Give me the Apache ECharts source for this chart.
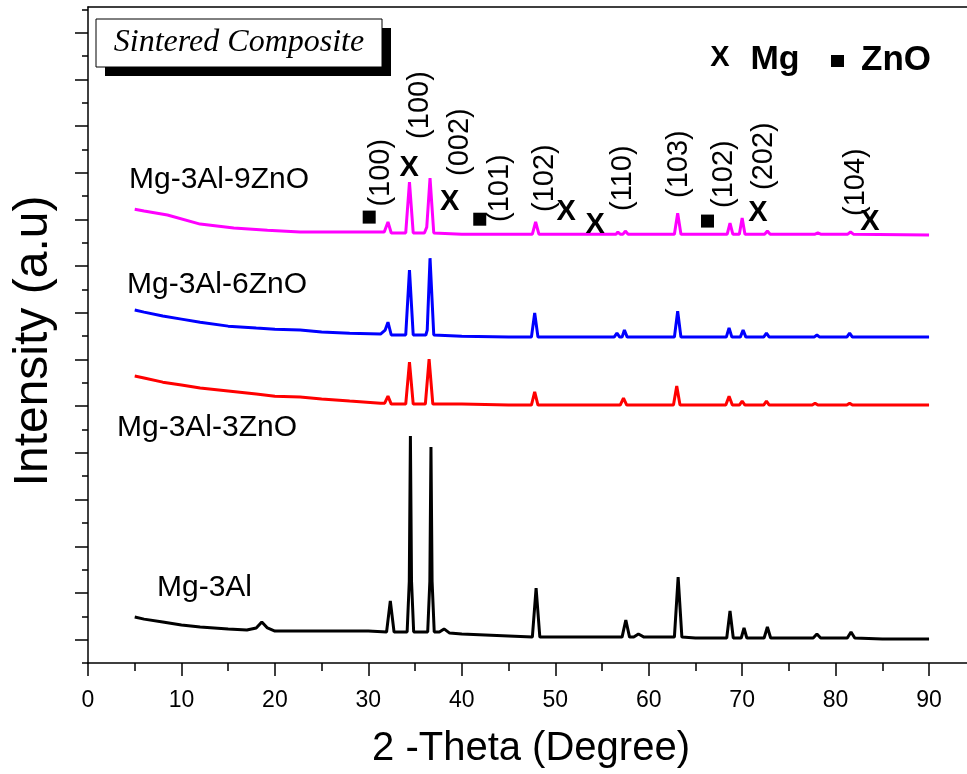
<!DOCTYPE html>
<html><head><meta charset="utf-8">
<script src="https://cdn.jsdelivr.net/npm/echarts@6/dist/echarts.min.js"></script>
<style>html,body{margin:0;padding:0;background:#fff}#c{width:967px;height:774px}</style>
</head><body><div id="c"></div>
<script>
// 2-Theta (degree), intensity (a.u., offset stacked)
const mg3Al = [[5,1.97],[6,1.88],[8,1.76],[10,1.63],[12,1.54],[15,1.46],[17,1.41],[18.0,1.50],[18.6,1.76],[19.2,1.50],[20,1.37],[25,1.37],[30,1.37],[31.95,1.33],[32.35,2.66],[32.75,1.33],[34.15,1.33],[34.38,3.5],[34.5,9.72],[34.62,3.5],[34.85,1.33],[36.35,1.33],[36.58,3.5],[36.7,9.25],[36.82,3.5],[37.05,1.33],[37.6,1.33],[38.1,1.46],[38.7,1.28],[40,1.24],[45,1.16],[47.55,1.11],[47.95,3.21],[48.35,1.11],[50,1.11],[55,1.11],[57.15,1.11],[57.55,1.84],[57.95,1.11],[58.4,1.11],[58.9,1.24],[59.5,1.11],[62.75,1.11],[63.15,3.68],[63.55,1.11],[65,1.07],[68.35,1.07],[68.7,2.23],[69.05,1.07],[69.9,1.07],[70.2,1.50],[70.5,1.07],[72.35,1.07],[72.7,1.54],[73.05,1.07],[75,1.07],[77.6,1.07],[78.0,1.24],[78.4,1.07],[81.25,1.07],[81.65,1.33],[82.05,1.07],[85,1.03],[90,1.03]];
const mg3Al3ZnO = [[5,12.29],[6,12.21],[8,12.03],[10,11.91],[12,11.78],[15,11.65],[18,11.52],[20,11.43],[22.7,11.39],[25,11.31],[28,11.22],[31.3,11.13],[31.75,11.13],[32.1,11.43],[32.45,11.09],[34.0,11.09],[34.4,12.89],[34.8,11.09],[36.1,11.09],[36.5,13.02],[36.9,11.09],[40,11.09],[45,11.05],[47.45,11.05],[47.8,11.61],[48.15,11.05],[55,11.05],[56.95,11.05],[57.3,11.35],[57.65,11.05],[62.65,11.05],[63.0,11.86],[63.35,11.05],[68.25,11.05],[68.6,11.43],[68.95,11.05],[69.7,11.05],[70.0,11.22],[70.3,11.05],[72.3,11.05],[72.6,11.22],[72.9,11.05],[77.5,11.05],[77.8,11.13],[78.1,11.05],[81.2,11.05],[81.5,11.13],[81.8,11.05],[90,11.05]];
const mg3Al6ZnO = [[5,15.12],[6,15.03],[8,14.86],[10,14.73],[12,14.60],[15,14.43],[18,14.35],[20,14.30],[22.7,14.26],[25,14.18],[28,14.13],[31.3,14.09],[31.5,14.09],[31.8,14.26],[32.1,14.60],[32.45,14.05],[34.0,14.05],[34.4,16.83],[34.8,14.05],[36.15,14.05],[36.3,14.26],[36.6,17.34],[37.0,14.05],[40,14.00],[45,13.96],[47.45,13.96],[47.8,14.99],[48.15,13.96],[56.3,13.96],[56.6,14.13],[56.9,13.96],[57.15,13.96],[57.4,14.26],[57.7,13.96],[62.75,13.96],[63.1,15.07],[63.45,13.96],[68.3,13.96],[68.6,14.35],[68.9,13.96],[69.8,13.96],[70.1,14.26],[70.4,13.96],[72.3,13.96],[72.6,14.13],[72.9,13.96],[77.7,13.96],[78,14.05],[78.3,13.96],[81.2,13.96],[81.5,14.13],[81.8,13.96],[90,13.96]];
const mg3Al9ZnO = [[5,19.44],[6,19.36],[8.5,19.19],[12,18.80],[15.6,18.63],[19.2,18.54],[22.7,18.46],[25,18.46],[31.3,18.46],[31.7,18.46],[32.1,18.89],[32.45,18.42],[34.0,18.42],[34.4,20.60],[34.8,18.42],[36.0,18.42],[36.25,18.67],[36.6,20.77],[37.0,18.42],[40,18.37],[45,18.37],[47.55,18.37],[47.9,18.89],[48.25,18.37],[56.5,18.37],[56.7,18.46],[56.95,18.37],[57.25,18.37],[57.5,18.50],[57.8,18.37],[62.75,18.37],[63.1,19.27],[63.45,18.37],[68.4,18.37],[68.7,18.84],[69.0,18.37],[69.7,18.37],[70.0,19.06],[70.3,18.37],[72.4,18.37],[72.7,18.50],[73.0,18.37],[77.8,18.37],[78.1,18.42],[78.4,18.37],[81.3,18.37],[81.6,18.46],[81.9,18.37],[90,18.33]];

// annotations: [2theta, intensity, text]
const hklLabels = [[31.37,21.0,'(100)'],[35.56,23.9,'(100)'],[39.8,22.31,'(002)'],[44.05,20.34,'(101)'],[48.89,20.77,'(102)'],[57.2,20.77,'(110)'],[63.2,21.37,'(103)'],[68.04,20.94,'(102)'],[72.29,21.71,'(202)'],[82.23,20.6,'(104)']];
const mgMarks = [[34.37,21.2],[38.7,19.74],[51.17,19.31],[54.27,18.76],[71.7,19.27],[83.68,18.89]];
const znoMarks = [[30.09,19.1],[41.92,19.01],[66.29,18.93]];

const xTickValues = [0,10,20,30,40,50,60,70,80,90];
const xMinorTicks = [5,15,25,35,45,55,65,75,85];
const yMajorTicks = [1,3,5,7,9,11,13,15,17,19,21,23,25,27];
const yMinorTicks = [0,2,4,6,8,10,12,14,16,18,20,22,24,26,28];

const FONT = 'Liberation Sans, Arial, sans-serif';
const XMAX = 94.06, YMAX = 28.1;
const chart = echarts.init(document.getElementById('c'), null, {renderer:'canvas'});
const axLine = {color:'#000', width:1.5};
function lineSeries(name, data, color){
  return {name, type:'line', data, showSymbol:false, symbol:'none', smooth:false,
    lineStyle:{color, width:3}, itemStyle:{color}, animation:false, silent:true, clip:false};
}
chart.setOption({
  animation:false,
  backgroundColor:'#fff',
  grid:{left:88, right:0, top:7, bottom:111, containLabel:false},
  xAxis:[{type:'value', min:0, max:XMAX, position:'bottom',
    axisLine:{show:true, onZero:false, lineStyle:axLine},
    axisTick:{show:true, inside:false, length:13, customValues:xTickValues, lineStyle:axLine},
    axisLabel:{show:true, color:'#000', fontSize:23, fontFamily:FONT, margin:26, customValues:xTickValues},
    splitLine:{show:false}},
   {type:'value', min:0, max:XMAX, position:'bottom',
    axisLine:{show:false, onZero:false},
    axisTick:{show:true, inside:false, length:8, customValues:xMinorTicks, lineStyle:axLine},
    axisLabel:{show:false}, splitLine:{show:false}},
   {type:'value', min:0, max:XMAX, position:'top',
    axisLine:{show:true, onZero:false, lineStyle:axLine},
    axisTick:{show:false}, axisLabel:{show:false}, splitLine:{show:false}}],
  yAxis:[{type:'value', min:0, max:YMAX, position:'left',
    axisLine:{show:true, onZero:false, lineStyle:axLine},
    axisTick:{show:true, length:13, customValues:yMajorTicks, lineStyle:axLine},
    axisLabel:{show:false}, splitLine:{show:false}},
   {type:'value', min:0, max:YMAX, position:'left',
    axisLine:{show:false, onZero:false},
    axisTick:{show:true, length:6, customValues:yMinorTicks, lineStyle:axLine},
    axisLabel:{show:false}, splitLine:{show:false}}],
  series:[
    lineSeries('Mg-3Al', mg3Al, '#000000'),
    lineSeries('Mg-3Al-3ZnO', mg3Al3ZnO, '#FF0000'),
    lineSeries('Mg-3Al-6ZnO', mg3Al6ZnO, '#0000FF'),
    lineSeries('Mg-3Al-9ZnO', mg3Al9ZnO, '#FF00FF'),
    {type:'scatter', data:hklLabels, symbolSize:0, silent:true, clip:false, z:5,
      itemStyle:{opacity:1},
      label:{show:true, position:'inside', rotate:90, formatter:p=>p.data[2],
        color:'#000', opacity:1, fontSize:29, fontFamily:FONT}},
    {type:'scatter', data:mgMarks, symbolSize:0, silent:true, clip:false, z:5,
      itemStyle:{opacity:1},
      label:{show:true, position:'inside', formatter:'X', color:'#000', opacity:1,
        fontSize:29, fontWeight:'bold', fontFamily:FONT}},
    {type:'scatter', data:znoMarks, symbol:'rect', symbolSize:13, silent:true, clip:false, z:5,
      itemStyle:{color:'#000', opacity:1}}
  ],
  graphic:[
    {type:'rect', shape:{x:105, y:28, width:286, height:48}, style:{fill:'#000'}, z:10},
    {type:'rect', shape:{x:96, y:19, width:286, height:48}, style:{fill:'#fff', stroke:'#000', lineWidth:1}, z:11},
    {type:'text', x:239, y:43, z:12, style:{text:'Sintered Composite', fill:'#000',
      font:'italic 32px "Liberation Serif", "Times New Roman", serif', align:'center', verticalAlign:'middle'}},
    {type:'text', x:720, y:58, z:12, style:{text:'X', fill:'#000', font:'bold 29px '+FONT, align:'center', verticalAlign:'middle'}},
    {type:'text', x:775, y:60, z:12, style:{text:'Mg', fill:'#000', font:'bold 34px '+FONT, align:'center', verticalAlign:'middle'}},
    {type:'rect', shape:{x:831, y:55, width:13, height:12}, style:{fill:'#000'}, z:12},
    {type:'text', x:896, y:60, z:12, style:{text:'ZnO', fill:'#000', font:'bold 35px '+FONT, align:'center', verticalAlign:'middle'}},
    {type:'text', x:129, y:180, z:12, style:{text:'Mg-3Al-9ZnO', fill:'#000', font:'30px '+FONT, align:'left', verticalAlign:'middle'}},
    {type:'text', x:127, y:285, z:12, style:{text:'Mg-3Al-6ZnO', fill:'#000', font:'30px '+FONT, align:'left', verticalAlign:'middle'}},
    {type:'text', x:117, y:428, z:12, style:{text:'Mg-3Al-3ZnO', fill:'#000', font:'30px '+FONT, align:'left', verticalAlign:'middle'}},
    {type:'text', x:157, y:588, z:12, style:{text:'Mg-3Al', fill:'#000', font:'30px '+FONT, align:'left', verticalAlign:'middle'}},
    {type:'text', x:531, y:749, z:12, style:{text:'2 -Theta (Degree)', fill:'#000', font:'40px '+FONT, align:'center', verticalAlign:'middle'}},
    {type:'text', x:34, y:341, rotation:Math.PI/2, z:12, style:{text:'Intensity (a.u)', fill:'#000', font:'48px '+FONT, align:'center', verticalAlign:'middle'}}
  ]
});
</script></body></html>
